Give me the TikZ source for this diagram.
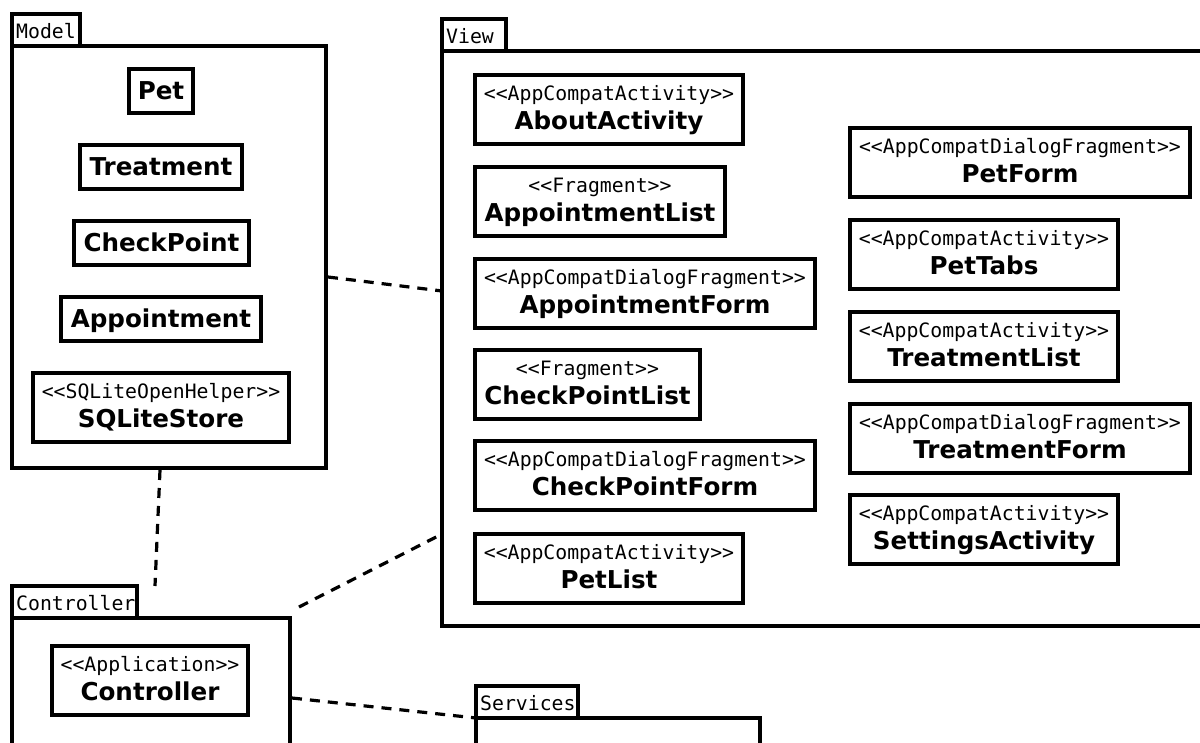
\documentclass[tikz,border=0pt]{standalone}
\usepackage{fontspec}
\usetikzlibrary{calc}
\newfontfamily\monofont{DejaVu Sans Mono}
\newfontfamily\sansfont{DejaVu Sans}

\tikzset{
  box/.style={draw=black, line width=3.2pt, fill=white, inner sep=0pt, outer sep=0pt, anchor=north west},
  stereo/.style={inner sep=0pt, anchor=base, font=\monofont\fontsize{19.8}{22}\selectfont},
  cname/.style={inner sep=0pt, anchor=base, font=\sansfont\bfseries\fontsize{24.6}{28}\selectfont},
  tabtext/.style={inner sep=0pt, anchor=base west, font=\monofont\fontsize{19.8}{22}\selectfont},
  dep/.style={line width=3.2pt, dash pattern=on 10pt off 8pt},
}

% class box with a single bold name
\newcommand\plainclass[5]{%
  \node[box, minimum width=#4, minimum height=44] (#1) at (#2,#3) {};
  \node[cname] (#1-n) at ($(#1.north)+(0,30)$) {#5};
}
% class box with a stereotype line and a bold name
\newcommand\stereoclass[6]{%
  \node[box, minimum width=#4, minimum height=69] (#1) at (#2,#3) {};
  \node[stereo] (#1-s) at ($(#1.north)+(0,25.5)$) {<<#5>>};
  \node[cname] (#1-n) at ($(#1.north)+(0,54.5)$) {#6};
}
% package: tab with its label, and the body below it
\newcommand\package[7]{%
  \node[box, minimum width=#4, minimum height=32] (#1-tab) at (#2,#3) {};
  \node[tabtext] (#1-lbl) at ($(#1-tab.north west)+(4,24)$) {#5};
  \node[box, minimum width=#6, minimum height=#7] (#1) at ($(#1-tab.south west)$) {};
}

\begin{document}
\begin{tikzpicture}[x=1pt,y=-1pt]
\useasboundingbox (0,0) rectangle (1200,742);
\clip (0,0) rectangle (1200,742);
\fill[white] (0,0) rectangle (1200,742);

% packages
\package{model}{12}{14}{68}{Model}{314}{422}
\package{view}{442}{19}{64}{View}{790}{575}
\package{ctrl}{12}{586}{125}{Controller}{278}{200}
\package{svc}{476}{686}{102}{Services}{284}{100}

% Model
\plainclass{pet}{129}{69}{64}{Pet}
\plainclass{treatment}{80}{145}{162}{Treatment}
\plainclass{checkpoint}{74}{221}{175}{CheckPoint}
\plainclass{appointment}{61}{297}{200}{Appointment}
\stereoclass{store}{33}{373}{256}{SQLiteOpenHelper}{SQLiteStore}

% View, left column
\stereoclass{about}{475}{75}{268}{AppCompatActivity}{AboutActivity}
\stereoclass{apptlist}{475}{167}{250}{Fragment}{AppointmentList}
\stereoclass{apptform}{475}{259}{340}{AppCompatDialogFragment}{AppointmentForm}
\stereoclass{cplist}{475}{350}{225}{Fragment}{CheckPointList}
\stereoclass{cpform}{475}{441}{340}{AppCompatDialogFragment}{CheckPointForm}
\stereoclass{petlist}{475}{534}{268}{AppCompatActivity}{PetList}

% View, right column
\stereoclass{petform}{850}{128}{340}{AppCompatDialogFragment}{PetForm}
\stereoclass{pettabs}{850}{220}{268}{AppCompatActivity}{PetTabs}
\stereoclass{trlist}{850}{312}{268}{AppCompatActivity}{TreatmentList}
\stereoclass{trform}{850}{404}{340}{AppCompatDialogFragment}{TreatmentForm}
\stereoclass{settings}{850}{495}{268}{AppCompatActivity}{SettingsActivity}

% Controller
\stereoclass{app}{52}{646}{196}{Application}{Controller}

% dependencies between packages
\draw[dep] ($(model.north east)+(2,231)$) -- ($(view.north west)+(0,240)$);
\draw[dep] ($(model.south west)+(148,2)$) -- ($(ctrl.north west)+(143,-32)$);
\draw[dep] ($(ctrl.north east)+(9,-11)$) -- ($(view.north west)+(0,483)$);
\draw[dep] ($(ctrl.north east)+(2,80)$) -- (svc.north west);
\end{tikzpicture}
\end{document}
